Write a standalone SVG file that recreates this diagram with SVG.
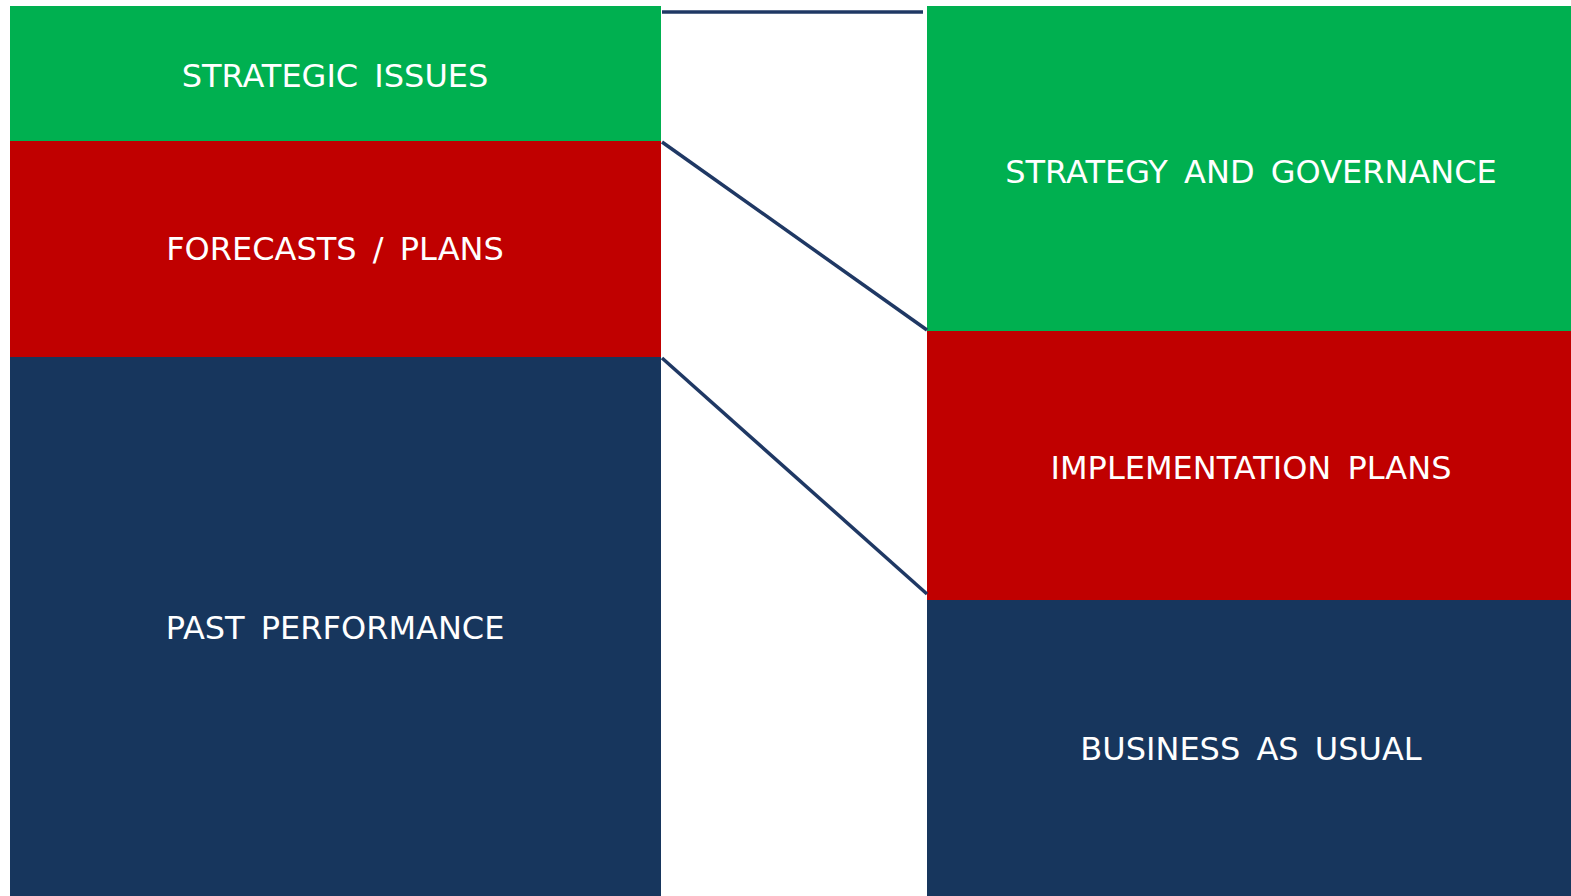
<svg xmlns="http://www.w3.org/2000/svg" width="1571" height="896" viewBox="0 0 1571 896">
<style>
.g{fill:#00B050}.r{fill:#C00000}.b{fill:#17365D}
text{fill:#FFFFFF;font-family:"DejaVu Sans","Verdana",sans-serif;font-size:32px;word-spacing:6px;text-anchor:middle}
.c{stroke:#1F3864;stroke-width:3.5;fill:none}
</style>
<rect width="1571" height="896" fill="#FFFFFF"/>
<g id="strategic-issues"><rect class="g" x="10" y="6" width="651" height="135"/><text x="335" y="87">STRATEGIC ISSUES</text></g>
<g id="forecasts-plans"><rect class="r" x="10" y="141" width="651" height="216"/><text x="335" y="260">FORECASTS / PLANS</text></g>
<g id="past-performance"><rect class="b" x="10" y="357" width="651" height="539"/><text x="335" y="639">PAST PERFORMANCE</text></g>
<g id="strategy-governance"><rect class="g" x="927" y="6" width="644" height="325"/><text x="1251" y="183">STRATEGY AND GOVERNANCE</text></g>
<g id="implementation-plans"><rect class="r" x="927" y="331" width="644" height="269"/><text x="1251" y="479">IMPLEMENTATION PLANS</text></g>
<g id="business-as-usual"><rect class="b" x="927" y="600" width="644" height="296"/><text x="1251" y="760">BUSINESS AS USUAL</text></g>
<g id="connectors">
<line class="c" x1="662" y1="12" x2="923" y2="12"/>
<line class="c" x1="662" y1="142" x2="927" y2="330"/>
<line class="c" x1="662" y1="358" x2="927" y2="594"/>
</g>
</svg>
